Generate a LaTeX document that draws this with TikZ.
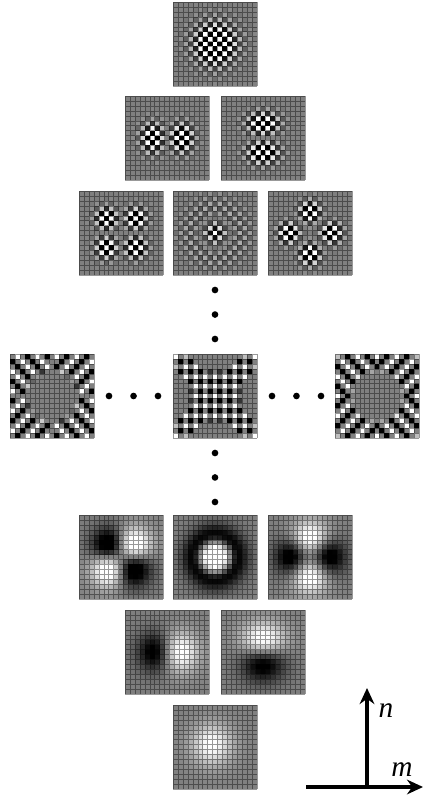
\documentclass[tikz,border=0pt]{standalone}
\usepackage{fontspec}
\setmainfont{Liberation Serif}
\usetikzlibrary{arrows.meta,positioning}

\tikzset{
  declare function={
    gs(\a,\b)=exp(-(\a*\a+\b*\b)/2);
    rim(\a,\b)=min(1,max(0,veclen(\a,\b)-4.8));
    xmask(\d,\M)=(\d<2.5)*(1-0.5*(\M>7.5)*(\d>1.5))+(\d>3.5)*(\d<4.5)*((\M<4.5)+0.6*(\M>4.5)*(\M<5.5));
  },
  panel/.style={inner sep=0pt,outer sep=0pt,minimum size=63pt},
  panelgrid/.style={line width=0.3pt,black,opacity=0.4},
  dot/.style={circle,fill=black,inner sep=0pt,minimum size=5pt},
  axis/.style={line width=2.3pt,-{Stealth[length=12pt,width=11pt]}},
  axislabel/.style={font=\fontsize{22}{24}\selectfont\itshape,inner sep=0pt},
}

% #1 name, #2 placement, #3 cell value in -1..1
\newcommand{\panel}[3]{
  \node[panel,#2] (#1) {};
  \begin{scope}[shift={(#1.south west)},x=3.70588pt,y=3.70588pt]
    \foreach \i in {0,...,16}{
      \foreach \j in {0,...,16}{
        \pgfmathsetmacro\m{\i-8}
        \pgfmathsetmacro\n{\j-8}
        \pgfmathsetmacro\chk{cos(180*(\m+\n))}
        \pgfmathsetmacro\cellval{min(1,max(0,0.5+0.5*(#3)))}
        \definecolor{cellgray}{gray}{\cellval}
        \fill[cellgray] (\i,\j) rectangle +(1,1);
      }
    }
    \draw[panelgrid,step=1] (0,0) grid (17,17);
  \end{scope}
}

\begin{document}
\begin{tikzpicture}[x=0.75pt,y=-0.75pt,on grid]
  \useasboundingbox (0,0) rectangle (423,798);

  % checkerboard modes
  \panel{top}{at={(215,44)}}{\chk*1.7*gs(\m/3.1,\n/3.1)}
  \panel{bl}{below left=70.5pt and 36pt of top}{\chk*sign(\m)*1.4*gs((abs(\m)-3)/1.7,\n/2.2)}
  \panel{br}{right=72pt of bl}{0-\chk*sign(\n)*1.4*gs(\m/2.4,(abs(\n)-3)/1.7)}
  \panel{cm}{below=141.75pt of top}{\chk*1.05*(1-(\m*\m+\n*\n)/10.24)*exp(-0.6*(\m*\m+\n*\n)/10.24)}
  \panel{cl}{left=70.5pt of cm}{\chk*sign(\m*\n)*1.4*gs((abs(\m)-3)/1.6,(abs(\n)-3)/1.6)}
  \panel{cr}{right=71.25pt of cm}{\chk*1.4*(gs((abs(\m)-4.3)/1.6,\n/1.6)-gs(\m/1.6,(abs(\n)-4.3)/1.6))}

  % middle row
  \panel{dm}{below=122.25pt of cm}{cos(180*\n)*pow(cos(90*(\m+\n)),2)*xmask(abs(abs(\m)-abs(\n)),max(abs(\m),abs(\n)))}
  \panel{dl}{left=122.25pt of dm}{0-sign(\m)*sign(\n)*sin(90*(abs(\n)-abs(\m)))*rim(\m,\n)}
  \panel{dr}{right=121.5pt of dm}{cos(90*(abs(\n)-abs(\m)))*rim(\m,\n)*(1-0.5*(abs(\m)+abs(\n)>15.5))}

  % smooth modes
  \panel{em}{below=120.75pt of dm}{(2.2+2.4*((\m*\m+\n*\n)/10.56>1))*(1-(\m*\m+\n*\n)/10.56)*exp(-0.8*(\m*\m+\n*\n)/10.56)}
  \panel{el}{left=70.5pt of em}{1.25*2.718*\m*\n/8.41*gs(\m/2.9,\n/2.9)}
  \panel{er}{right=71.25pt of em}{1.15*2.718*(\n*\n-\m*\m)/18*gs(\m/3,\n/3)}
  \panel{fl}{below left=71.25pt and 36pt of em}{1.08*1.649*\m/3*gs(\m/3,\n/2.9)}
  \panel{fr}{right=72pt of fl}{1.08*1.649*\n/3*gs(\m/3.2,\n/3)}
  \panel{bottom}{below=142.5pt of em}{1.05*gs((\m+0.7)/3,(\n-0.5)/3)}

  % dots
  \foreach \k/\d in {1/42.75,2/61.1,3/79.5}{
    \node[dot,above=\d pt of dm] (up\k) {};
    \node[dot,below=\d pt of dm] (down\k) {};
    \node[dot,left=\d pt of dm] (left\k) {};
    \node[dot,right=\d pt of dm] (right\k) {};
  }

  % axes
  \coordinate (origin) at (367,787);
  \coordinate (mstart) at (306,787);
  \coordinate (mend) at (423,787);
  \coordinate (nend) at (367,688);
  \draw[axis] (mstart) -- (mend);
  \draw[axis] (origin) -- (nend);
  \node[axislabel] (nlabel) at (386,711) {n};
  \node[axislabel] (mlabel) at (402,770) {m};
\end{tikzpicture}
\end{document}
